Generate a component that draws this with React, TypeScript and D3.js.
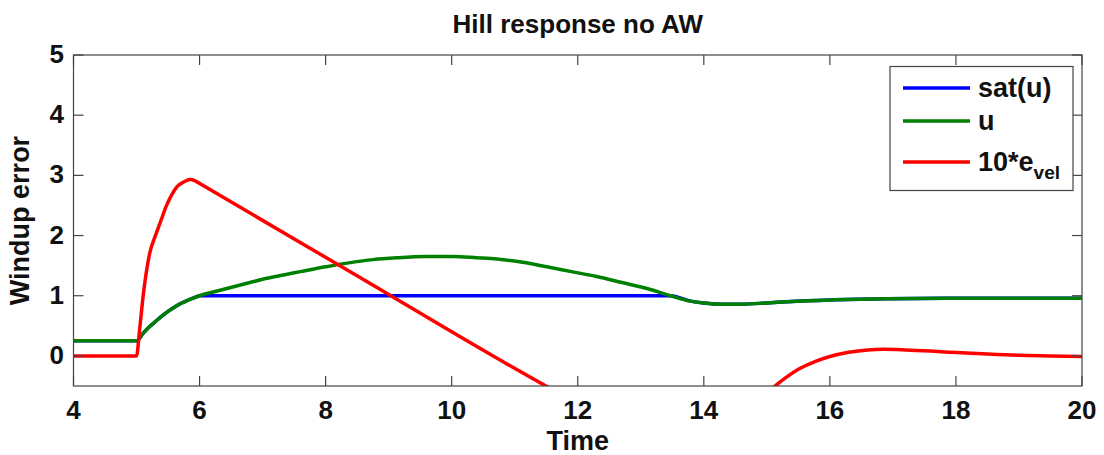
import React from "react";
import * as d3 from "d3";

// Time grid shared by u and sat(u)
const uTime = [4.0, 5.0, 5.1, 5.2, 5.3, 5.4, 5.5, 5.6, 5.7, 5.8, 5.9, 6.0, 6.25, 6.54, 6.8, 7.07, 7.35, 7.6, 8.0, 8.39, 8.75, 9.13, 9.6, 10.02, 10.4, 10.72, 11.1, 11.51, 11.9, 12.3, 12.7, 13.1, 13.47, 13.79, 14.0, 14.3, 14.6, 15.0, 15.32, 16.0, 16.9, 18.0, 20.0];
const uValues = [0.25, 0.25, 0.37, 0.48, 0.57, 0.66, 0.74, 0.81, 0.87, 0.92, 0.96, 1.0, 1.07, 1.15, 1.22, 1.29, 1.35, 1.4, 1.48, 1.55, 1.6, 1.63, 1.65, 1.65, 1.63, 1.61, 1.56, 1.48, 1.4, 1.32, 1.22, 1.12, 1.0, 0.91, 0.88, 0.86, 0.86, 0.88, 0.9, 0.93, 0.95, 0.96, 0.96];
const satValues = [0.25, 0.25, 0.37, 0.48, 0.57, 0.66, 0.74, 0.81, 0.87, 0.92, 0.96, 1.0, 1.0, 1.0, 1.0, 1.0, 1.0, 1.0, 1.0, 1.0, 1.0, 1.0, 1.0, 1.0, 1.0, 1.0, 1.0, 1.0, 1.0, 1.0, 1.0, 1.0, 1.0, 0.91, 0.88, 0.86, 0.86, 0.88, 0.9, 0.93, 0.95, 0.96, 0.96];

// 10 * velocity error
const eTime = [4.0, 5.0, 5.05, 5.11, 5.21, 5.3, 5.37, 5.48, 5.56, 5.64, 5.75, 5.85, 5.93, 6.01, 8.39, 11.6, 12.2, 12.8, 13.4, 14.0, 14.5, 14.9, 15.13, 15.3, 15.5, 15.75, 16.0, 16.3, 16.6, 16.85, 17.2, 17.6, 18.0, 18.5, 19.0, 19.5, 20.0];
const eValues = [0, 0, 0.45, 1.04, 1.71, 2.0, 2.2, 2.51, 2.68, 2.81, 2.89, 2.93, 2.91, 2.86, 1.4, -0.56, -0.9, -1.2, -1.4, -1.35, -1.05, -0.7, -0.5, -0.36, -0.22, -0.1, -0.01, 0.06, 0.1, 0.11, 0.1, 0.08, 0.055, 0.03, 0.01, 0.0, -0.01];

const xTicks = [4, 6, 8, 10, 12, 14, 16, 18, 20];
const yTicks = [0, 1, 2, 3, 4, 5];

const seriesNames = ["sat(u)", "u", "10*e"];
const seriesColors = ["#0000ff", "#008000", "#ff0000"];

const W = 1104;
const H = 455;
const left = 73.5;
const right = 1082;
const top = 55;
const bottom = 386;
const font = "'Liberation Sans', Arial, Helvetica, sans-serif";

export default function App() {
  const x = d3.scaleLinear().domain([4, 20]).range([left, right]);
  const y = d3.scaleLinear().domain([-0.5, 5]).range([bottom, top]);

  const line = d3
    .line<[number, number]>()
    .x((d) => x(d[0]))
    .y((d) => y(d[1]))
    .curve(d3.curveMonotoneX);

  const sat = uTime.map((t, i) => [t, satValues[i]] as [number, number]);
  const u = uTime.map((t, i) => [t, uValues[i]] as [number, number]);
  const e = eTime.map((t, i) => [t, eValues[i]] as [number, number]);
  const paths = [sat, u, e];

  const tickLen = 10;
  const axisColor = "#444";

  const legendRows = [88, 121, 162];

  return (
    <svg
      width={W}
      height={H}
      style={{ position: "absolute", left: 0, top: 0, background: "#fff" }}
      fontFamily={font}
    >
      <rect x={0} y={0} width={W} height={H} fill="#fff" />
      <defs>
        <clipPath id="plot-area">
          <rect x={left} y={top} width={right - left} height={bottom - top} />
        </clipPath>
      </defs>

      {/* title */}
      <text x={(left + right) / 2} y={33} textAnchor="middle" fontSize={26} fontWeight="bold" fill="#111">
        Hill response no AW
      </text>

      {/* series */}
      <g clipPath="url(#plot-area)">
        {paths.map((p, i) => (
          <path key={i} d={line(p) || ""} fill="none" stroke={seriesColors[i]} strokeWidth={3.5} strokeLinejoin="round" />
        ))}
      </g>

      {/* axes box */}
      <rect x={left} y={top} width={right - left} height={bottom - top} fill="none" stroke={axisColor} strokeWidth={1.2} />

      {/* x ticks */}
      {xTicks.map((t) => (
        <g key={"x" + t}>
          <line x1={x(t)} x2={x(t)} y1={bottom} y2={bottom - tickLen} stroke={axisColor} strokeWidth={1.2} />
          <line x1={x(t)} x2={x(t)} y1={top} y2={top + tickLen} stroke={axisColor} strokeWidth={1.2} />
          <text x={x(t)} y={419} textAnchor="middle" fontSize={26} fontWeight="bold" fill="#111">
            {t}
          </text>
        </g>
      ))}

      {/* y ticks */}
      {yTicks.map((t) => (
        <g key={"y" + t}>
          <line x1={left} x2={left + tickLen} y1={y(t)} y2={y(t)} stroke={axisColor} strokeWidth={1.2} />
          <line x1={right} x2={right - tickLen} y1={y(t)} y2={y(t)} stroke={axisColor} strokeWidth={1.2} />
          <text x={64} y={y(t) + 8} textAnchor="end" fontSize={26} fontWeight="bold" fill="#111">
            {t}
          </text>
        </g>
      ))}

      {/* axis labels */}
      <text x={(left + right) / 2} y={450} textAnchor="middle" fontSize={27} fontWeight="bold" fill="#111">
        Time
      </text>
      <text
        transform={`translate(29,${(top + bottom) / 2}) rotate(-90)`}
        textAnchor="middle"
        fontSize={27}
        fontWeight="bold"
        fill="#111"
      >
        Windup error
      </text>

      {/* legend */}
      <rect x={890} y={66.5} width={183} height={124} fill="#fff" stroke={axisColor} strokeWidth={1.2} />
      {seriesNames.map((name, i) => (
        <g key={name}>
          <line x1={903} x2={970} y1={legendRows[i]} y2={legendRows[i]} stroke={seriesColors[i]} strokeWidth={3.5} />
          <text x={978} y={legendRows[i] + 9} fontSize={27} fontWeight="bold" fill="#111">
            {name}
            {i === 2 ? (
              <tspan fontSize={19} dy={8}>
                vel
              </tspan>
            ) : null}
          </text>
        </g>
      ))}
    </svg>
  );
}
